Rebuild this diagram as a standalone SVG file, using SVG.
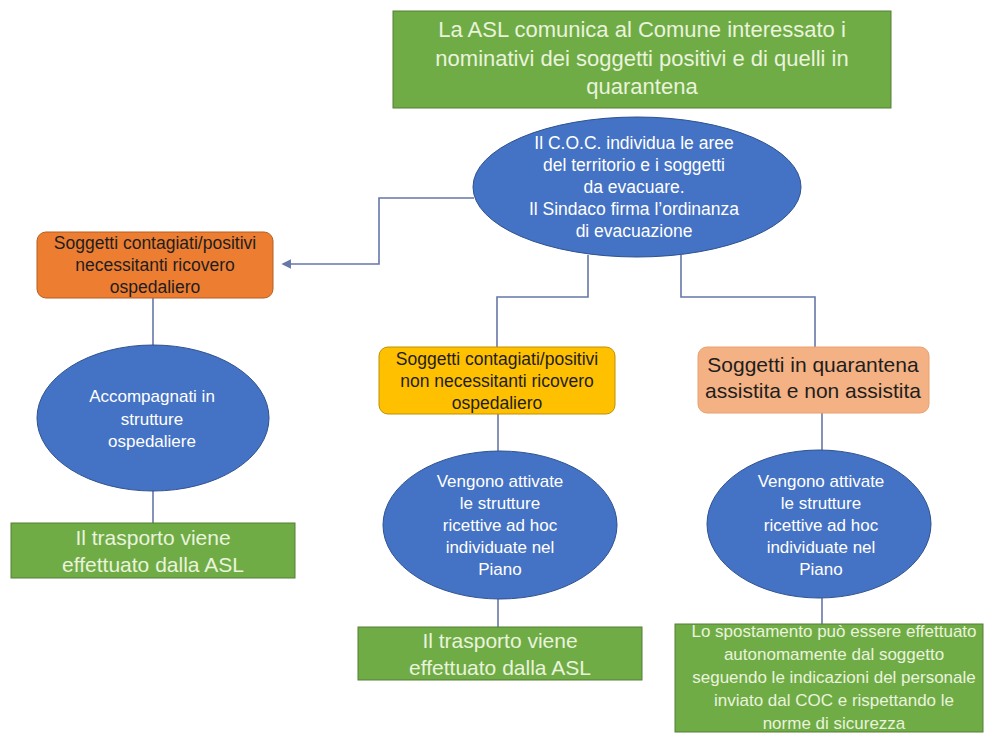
<svg xmlns="http://www.w3.org/2000/svg" width="989" height="733" viewBox="0 0 989 733">
  <style>
    text { font-family: "Liberation Sans", Arial, sans-serif; text-anchor: middle; }
    .green { fill: #6FAC46; stroke: #557F35; stroke-width: 1; }
    .oval { fill: #4472C4; stroke: #2F528F; stroke-width: 1; }
    .light { fill: #EAF3DC; }
    .white { fill: #FFFFFF; }
    .dark { fill: #1E1E1E; }
    .link { fill: none; stroke: #6677A8; stroke-width: 1.6; }
  </style>
  <defs>
    <marker id="arrow" viewBox="0 0 10 10" refX="1" refY="5" markerWidth="6" markerHeight="6" orient="auto-start-reverse">
      <path d="M0,0 L10,5 L0,10 z" fill="#6677A8"/>
    </marker>
  </defs>
  <rect width="989" height="733" fill="#FFFFFF"/>

  <g id="connectors">
    <path class="link" d="M474,198 H379 V264 H290" marker-end="url(#arrow)"/>
    <path class="link" d="M588,255 V297 H497 V347"/>
    <path class="link" d="M681,255 V297 H815 V347"/>
    <path class="link" d="M153,298 V345"/>
    <path class="link" d="M153,491 V523"/>
    <path class="link" d="M498,414 V451"/>
    <path class="link" d="M498,599 V627"/>
    <path class="link" d="M822,413 V451"/>
    <path class="link" d="M822,598 V624"/>
  </g>

  <g id="asl-comunica">
    <rect class="green" x="393" y="11" width="498" height="97"/>
    <text class="light" font-size="22" x="642" y="37">La ASL comunica al Comune interessato i</text>
    <text class="light" font-size="22" x="642" y="66">nominativi dei soggetti positivi e di quelli in</text>
    <text class="light" font-size="22" x="642" y="94">quarantena</text>
  </g>

  <g id="coc">
    <ellipse class="oval" cx="637" cy="187" rx="164" ry="70"/>
    <text class="white" font-size="17.5" x="634" y="149">Il C.O.C. individua le aree</text>
    <text class="white" font-size="17.5" x="634" y="171">del territorio e i soggetti</text>
    <text class="white" font-size="17.5" x="634" y="193">da evacuare.</text>
    <text class="white" font-size="17.5" x="634" y="215">Il Sindaco firma l’ordinanza</text>
    <text class="white" font-size="17.5" x="634" y="237">di evacuazione</text>
  </g>

  <g id="ricovero">
    <rect x="37" y="232" width="236" height="66" rx="9" fill="#ED7D31" stroke="#B45F22" stroke-width="1"/>
    <text class="dark" font-size="17.5" x="155" y="249">Soggetti contagiati/positivi</text>
    <text class="dark" font-size="17.5" x="155" y="271">necessitanti  ricovero</text>
    <text class="dark" font-size="17.5" x="155" y="293">ospedaliero</text>
  </g>

  <g id="accompagnati">
    <ellipse class="oval" cx="153" cy="418" rx="116" ry="73"/>
    <text class="white" font-size="17" x="152" y="402">Accompagnati in</text>
    <text class="white" font-size="17" x="152" y="425">strutture</text>
    <text class="white" font-size="17" x="152" y="447">ospedaliere</text>
  </g>

  <g id="trasporto-sx">
    <rect class="green" x="11" y="523" width="284" height="55"/>
    <text class="light" font-size="21" x="153" y="545">Il trasporto viene</text>
    <text class="light" font-size="21" x="153" y="572">effettuato dalla ASL</text>
  </g>

  <g id="non-ricovero">
    <rect x="379" y="347" width="236" height="67" rx="9" fill="#FFC000" stroke="#BF9000" stroke-width="1"/>
    <text class="dark" font-size="17.5" x="497" y="365">Soggetti contagiati/positivi</text>
    <text class="dark" font-size="17.5" x="497" y="387">non necessitanti ricovero</text>
    <text class="dark" font-size="17.5" x="497" y="409">ospedaliero</text>
  </g>

  <g id="strutture-centro">
    <ellipse class="oval" cx="500" cy="525" rx="117" ry="74"/>
    <text class="white" font-size="17" x="500" y="487">Vengono attivate</text>
    <text class="white" font-size="17" x="500" y="509">le strutture</text>
    <text class="white" font-size="17" x="500" y="531">ricettive ad hoc</text>
    <text class="white" font-size="17" x="500" y="553">individuate  nel</text>
    <text class="white" font-size="17" x="500" y="575">Piano</text>
  </g>

  <g id="trasporto-centro">
    <rect class="green" x="358" y="627" width="284" height="53"/>
    <text class="light" font-size="21" x="500" y="648">Il trasporto viene</text>
    <text class="light" font-size="21" x="500" y="675">effettuato dalla ASL</text>
  </g>

  <g id="quarantena">
    <rect x="698" y="347" width="231" height="66" rx="9" fill="#F4B183" stroke="#E8A070" stroke-width="1"/>
    <text class="dark" font-size="21" x="813" y="372">Soggetti in quarantena</text>
    <text class="dark" font-size="21" x="813" y="398">assistita e non assistita</text>
  </g>

  <g id="strutture-dx">
    <ellipse class="oval" cx="819" cy="524" rx="112" ry="74"/>
    <text class="white" font-size="17" x="821" y="487">Vengono attivate</text>
    <text class="white" font-size="17" x="821" y="509">le strutture</text>
    <text class="white" font-size="17" x="821" y="531">ricettive ad hoc</text>
    <text class="white" font-size="17" x="821" y="553">individuate  nel</text>
    <text class="white" font-size="17" x="821" y="575">Piano</text>
  </g>

  <g id="spostamento">
    <rect class="green" x="675" y="624" width="308" height="108"/>
    <text class="light" font-size="17" x="834" y="637">Lo spostamento può essere effettuato</text>
    <text class="light" font-size="17" x="834" y="660">autonomamente  dal soggetto</text>
    <text class="light" font-size="17" x="834" y="683">seguendo  le indicazioni  del personale</text>
    <text class="light" font-size="17" x="834" y="706">inviato dal COC e rispettando le</text>
    <text class="light" font-size="17" x="834" y="729">norme di sicurezza</text>
  </g>
</svg>
